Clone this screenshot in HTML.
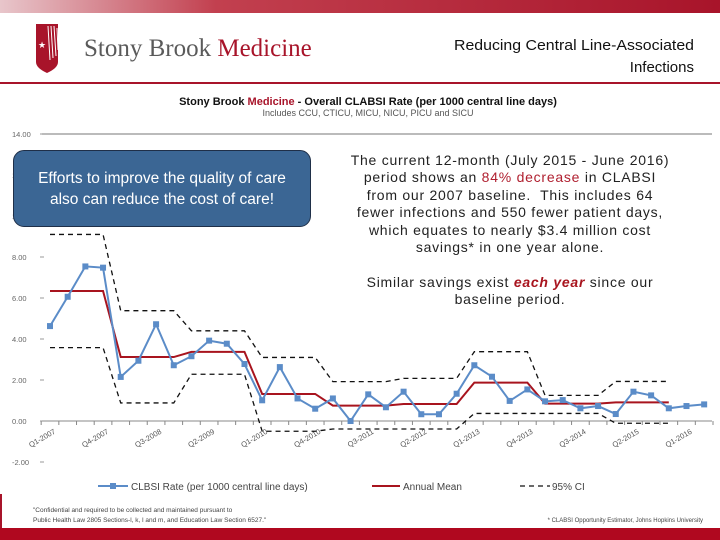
<!DOCTYPE html>
<html><head><meta charset="utf-8">
<style>
html,body{margin:0;padding:0;background:#fff;}
body{width:720px;height:540px;overflow:hidden;position:relative;font-family:"Liberation Sans",sans-serif;}
.abs{position:absolute;}
</style></head>
<body>
<svg id="chart" width="720" height="540" style="position:absolute;left:0;top:0">
  <defs>
    <linearGradient id="topg" x1="0" x2="1" y1="0" y2="0">
      <stop offset="0" stop-color="#e8c6cb"/><stop offset="0.3" stop-color="#c2404f"/><stop offset="1" stop-color="#a8142a"/>
    </linearGradient>
  </defs>
  <rect x="0" y="0" width="720" height="13" fill="url(#topg)"/>
  <rect x="0" y="82" width="720" height="2" fill="#a8142a"/>
  <g>
    <path d="M36,24 L58,24 L58,62 Q58,68 47,73 Q36,68 36,62 Z" fill="#a8142a"/>
    <path d="M48,26 L50,60 M51,26 L53,58 M54,26 L56,56 M57,28 L58,50" stroke="#fff" stroke-width="1"/>
    <text x="42" y="48" font-size="9" fill="#fff" text-anchor="middle">★</text>
  </g>
  <text x="84" y="56" font-family="Liberation Serif, serif" font-size="25" fill="#5a5a5a">Stony Brook <tspan fill="#a8142a">Medicine</tspan></text>
  <text x="694" y="50" text-anchor="end" font-size="15" fill="#111" textLength="240" lengthAdjust="spacingAndGlyphs">Reducing Central Line-Associated</text>
  <text x="694" y="72" text-anchor="end" font-size="15" fill="#111">Infections</text>
  <text x="368" y="105" text-anchor="middle" font-size="11" font-weight="bold" fill="#111">Stony Brook <tspan fill="#a8142a">Medicine</tspan> - Overall  CLABSI Rate (per 1000 central line days)</text>
  <text x="368" y="116" text-anchor="middle" font-size="9" fill="#555">Includes CCU, CTICU, MICU, NICU, PICU and SICU</text>
  <g id="axes"></g>
  <g id="marks"></g>
  <g font-size="10" fill="#444">
    <line x1="98" y1="486" x2="128" y2="486" stroke="#5b8cc8" stroke-width="2"/>
    <rect x="110" y="483" width="6" height="6" fill="#5b8cc8"/>
    <text x="131" y="490">CLBSI Rate (per 1000 central line days)</text>
    <line x1="372" y1="486" x2="400" y2="486" stroke="#a8141e" stroke-width="2"/>
    <text x="403" y="490">Annual Mean</text>
    <line x1="520" y1="486" x2="550" y2="486" stroke="#111" stroke-width="1.2" stroke-dasharray="5,4"/>
    <text x="552" y="490">95% CI</text>
  </g>
  <text x="33" y="512" font-size="6.5" fill="#444">"Confidential and required to be collected and maintained pursuant to</text>
  <text x="33" y="522" font-size="6.5" fill="#444">Public Health Law 2805 Sections-l, k, l and m, and Education Law Section 6527."</text>
  <text x="703" y="522" text-anchor="end" font-size="6" fill="#444">* CLABSI Opportunity Estimator, Johns Hopkins University</text>
  <rect x="0" y="494" width="2" height="36" fill="#a8142a"/>
  <rect x="0" y="528" width="720" height="12" fill="#b0081f"/>
</svg>

<div class="abs" style="left:13px;top:150px;width:298px;height:77px;background:#3b6694;border:1.5px solid #1f2f48;border-radius:11px;color:#fff;font-size:15.5px;line-height:21px;text-align:center;box-sizing:border-box;padding-top:17px;white-space:nowrap;">Efforts to improve the quality of care<br>also can reduce the cost of care!</div>

<div class="abs" style="left:310px;top:152px;width:400px;text-align:center;font-size:14px;line-height:17.4px;color:#222;white-space:nowrap;letter-spacing:0.75px;">
The current 12-month (July 2015 - June 2016)<br>period shows an <span style="color:#b02030">84% decrease</span> in CLABSI<br>from our 2007 baseline.&nbsp; This includes 64<br>fewer infections and 550 fewer patient days,<br>which equates to nearly $3.4 million cost<br>savings* in one year alone.<br><br>Similar savings exist <b style="color:#a8141e;font-style:italic">each year</b> since our<br>baseline period.
</div>

<script>
const rateValues=[4.63,6.06,7.54,7.48,2.15,2.94,4.72,2.72,3.16,3.92,3.77,2.78,1.01,2.63,1.10,0.60,1.10,0.00,1.30,0.67,1.43,0.33,0.33,1.33,2.72,2.16,0.98,1.54,0.96,1.02,0.62,0.73,0.34,1.43,1.25,0.62,0.73,0.81];
const yearMeans=[6.34,3.12,3.37,1.32,0.75,0.83,1.87,0.85,0.91];
const upperCI=[9.10,5.38,4.40,3.10,1.92,2.08,3.38,1.25,1.93];
const lowerCI=[3.58,0.88,2.28,-0.50,-0.39,-0.39,0.37,0.37,-0.11];
const xTickLabels=["Q1-2007","Q4-2007","Q3-2008","Q2-2009","Q1-2010","Q4-2010","Q3-2011","Q2-2012","Q1-2013","Q4-2013","Q3-2014","Q2-2015","Q1-2016"];
const yTicks=[14,12,10,8,6,4,2,0,-2];

const NS="http://www.w3.org/2000/svg";
const X0=50,DX=17.68,Y0=421,PY=20.5;
const xs=i=>X0+i*DX;
const ys=v=>Y0-v*PY;
function mk(tag,attrs,parent){const e=document.createElementNS(NS,tag);for(const k in attrs)e.setAttribute(k,attrs[k]);parent.appendChild(e);return e;}
const axesG=document.getElementById('axes'),marksG=document.getElementById('marks');

yTicks.forEach(v=>{
  const t=mk('text',{x:12,y:ys(v)+3,'font-size':7.5,fill:'#666'},axesG);
  
  
  t.textContent=v.toFixed(2);
  const tk=mk('line',{x1:40,x2:44,y1:ys(v),y2:ys(v),stroke:'#999'},axesG);
  
  
});
const topLine=mk('line',{x1:42,x2:712,y1:ys(14),y2:ys(14),stroke:'#777'},axesG);


const xa=mk('line',{x1:42,x2:712,y1:Y0,y2:Y0,stroke:'#888'},axesG);


for(let i=0;i<=rateValues.length;i++){
  const tk=mk('line',{x1:xs(i)-DX/2,x2:xs(i)-DX/2,y1:Y0,y2:Y0+4,stroke:'#888'},axesG);
  
  
}
xTickLabels.forEach((l,j)=>{
  const x=xs(j*3)+6,y=Y0+12;
  const t=mk('text',{x:x,y:y,'font-size':7.5,fill:'#555','text-anchor':'end',transform:`rotate(-30 ${x} ${y})`},axesG);
  
  
  t.textContent=l;
});

function stepPath(vals){
  let d='';
  vals.forEach((v,k)=>{
    const a=xs(k*4),b=xs(k*4+3);
    d+=(k===0?'M':'L')+a+','+ys(v)+' L'+b+','+ys(v)+' ';
  });
  return d;
}
const up=mk('path',{d:stepPath(upperCI),fill:'none',stroke:'#111','stroke-width':1.3,'stroke-dasharray':'5,4'},marksG);


const lo=mk('path',{d:stepPath(lowerCI),fill:'none',stroke:'#111','stroke-width':1.3,'stroke-dasharray':'5,4'},marksG);


const mean=mk('path',{d:stepPath(yearMeans),fill:'none',stroke:'#a8141e','stroke-width':2},marksG);


const rl=mk('polyline',{points:rateValues.map((v,i)=>xs(i)+','+ys(v)).join(' '),fill:'none',stroke:'#5b8cc8','stroke-width':2},marksG);


rateValues.forEach((v,i)=>{
  const r=mk('rect',{x:xs(i)-3,y:ys(v)-3,width:6,height:6,fill:'#5b8cc8'},marksG);
  
  
});
</script>
</body></html>
